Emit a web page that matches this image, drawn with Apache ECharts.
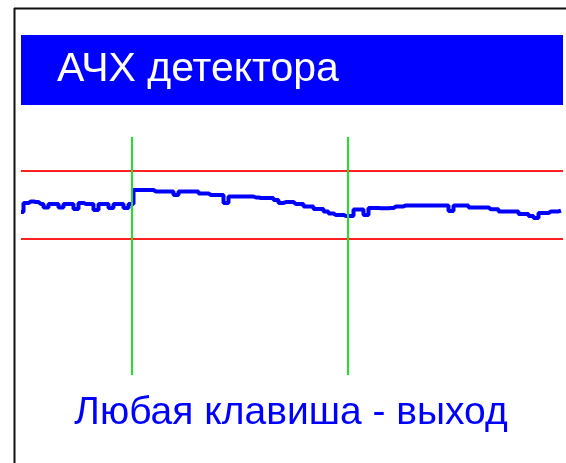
<!DOCTYPE html>
<html>
<head>
<meta charset="utf-8">
<script src="https://cdn.jsdelivr.net/npm/echarts@6/dist/echarts.min.js"></script>
<style>
html,body{margin:0;padding:0;background:#fff;}
#chart{width:566px;height:463px;}
</style>
</head>
<body>
<div id="chart"></div>
<script>
// Chart texts
const titleText = "АЧХ детектора";
const footerText = "Любая клавиша - выход";

// Frequency response of detector, dB, one value per frequency step (index 0..108)
const response = [
  -0.62, 0.18, 0.31, 0.26, 0.09, -0.22, 0.09, 0.09, -0.22, 0.09,
  0.09, -0.35, 0.18, 0.09, 0.09, -0.44, 0.09, 0.09, -0.26, 0.09,
  0.09, -0.26, 0.09, 1.32, 1.32, 1.32, 1.32, 1.19, 1.19, 1.19,
  1.19, 0.88, 1.19, 1.19, 1.19, 1.19, 1.01, 1.01, 0.88, 0.88,
  0.88, 0.18, 0.75, 0.75, 0.75, 0.75, 0.75, 0.66, 0.62, 0.62,
  0.62, 0.44, 0.18, 0.26, 0.26, 0.09, 0.09, -0.13, -0.13, -0.35,
  -0.35, -0.57, -0.75, -0.88, -0.88, -0.97, -0.97, -0.40, -0.40, -0.88,
  -0.26, -0.26, -0.29, -0.29, -0.26, -0.13, -0.13, -0.04, -0.04, -0.04,
  -0.04, -0.04, -0.04, -0.04, -0.04, -0.04, -0.53, -0.04, -0.04, -0.04,
  -0.22, -0.22, -0.22, -0.22, -0.38, -0.38, -0.57, -0.57, -0.57, -0.57,
  -0.79, -0.79, -0.97, -1.15, -0.71, -0.71, -0.57, -0.57, -0.49
];

// Tolerance limits (dB) and frequency markers (step index)
const limits = [3, -3];
const markers = [22.2, 65.4];

const chart = echarts.init(document.getElementById('chart'), null, {renderer: 'canvas'});

const seriesData = response.map((v, i) => [i, v]);

chart.setOption({
  backgroundColor: '#ffffff',
  animation: false,
  grid: {left: 21, right: 3, top: 137, bottom: 88, containLabel: false},
  xAxis: {type: 'value', min: 0, max: 108.4, show: false},
  yAxis: {type: 'value', min: -15, max: 6, show: false},
  graphic: [
    {type: 'line', shape: {x1: 14, y1: 8.5, x2: 566, y2: 8.5}, style: {stroke: '#111', lineWidth: 2}},
    {type: 'line', shape: {x1: 14.5, y1: 8, x2: 14.5, y2: 463}, style: {stroke: '#111', lineWidth: 2}},
    {type: 'rect', shape: {x: 21, y: 35, width: 542, height: 70}, style: {fill: '#0000ff'}},
    {type: 'text', x: 57, y: 70, style: {text: titleText, fill: '#ffffff', font: '41px "Liberation Sans", Arial, sans-serif', textVerticalAlign: 'middle'}},
    {type: 'text', x: 291, y: 413, style: {text: footerText, fill: '#0000ff', font: '39px "Liberation Sans", Arial, sans-serif', textAlign: 'center', textVerticalAlign: 'middle'}}
  ],
  series: [{
    type: 'line',
    data: seriesData,
    step: 'middle',
    showSymbol: false,
    lineStyle: {color: '#0000ff', width: 4},
    z: 3,
    markLine: {
      silent: true,
      symbol: 'none',
      label: {show: false},
      data: [
        ...limits.map(v => ({yAxis: v, lineStyle: {color: '#ff2020', width: 2, type: 'solid'}})),
        ...markers.map(v => ({xAxis: v, lineStyle: {color: '#22e022', width: 2, type: 'solid'}}))
      ]
    }
  }]
});
</script>
</body>
</html>
